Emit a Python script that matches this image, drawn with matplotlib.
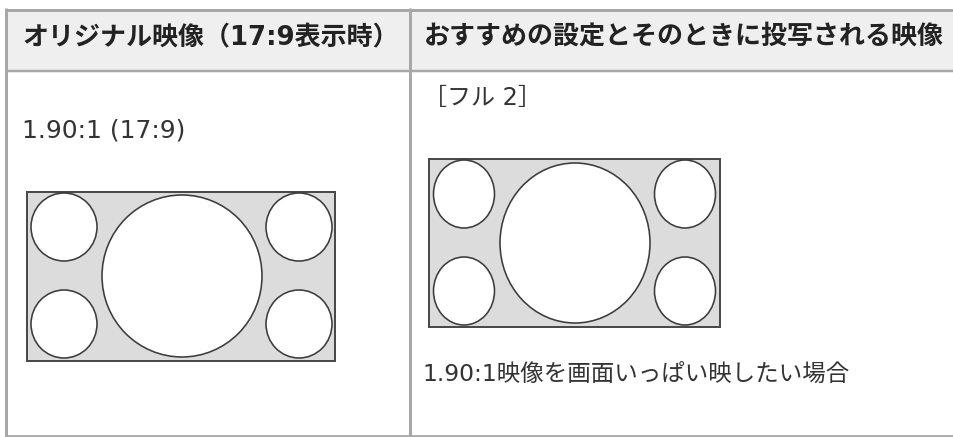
import matplotlib
matplotlib.use("Agg")
import matplotlib.pyplot as plt
from matplotlib.patches import Rectangle, Ellipse

# ---- table text ----
headers = ["オリジナル映像（17:9表示時）", "おすすめの設定とそのときに投写される映像"]
left_label = "1.90:1 (17:9)"
right_title = "［フル 2］"
right_caption = "1.90:1映像を画面いっぱい映したい場合"

# ---- diagram geometry (pixels) ----
# frame: x0, y0, x1, y1
left_frame = [27, 192, 335, 361]
right_frame = [429, 159, 720, 327]
# circles: cx, cy, rx, ry
left_cx = [64, 64, 299, 299, 182]
left_cy = [227, 324, 227, 324, 276]
left_rx = [33, 33, 33, 33, 80]
left_ry = [34, 34, 34, 34, 81]
right_cx = [464, 464, 685, 685, 575]
right_cy = [194, 291, 194, 291, 243]
right_rx = [30.5, 30.5, 30.5, 30.5, 75]
right_ry = [34, 34, 34, 34, 80]

W, H, DPI = 954, 437, 100
PT = 72 / DPI

fig = plt.figure(figsize=(W / DPI, H / DPI), dpi=DPI)
ax = fig.add_axes([0, 0, 1, 1])
ax.set_xlim(0, W)
ax.set_ylim(H, 0)
ax.axis("off")

border = "#a8a8a8"
# header background
ax.add_patch(Rectangle((7, 9.5), W - 7, 61.5, facecolor="#efefef", edgecolor="none", zorder=1))
# lines
ax.plot([5, W], [9.5, 9.5], color=border, lw=3 * PT, zorder=2, solid_capstyle="butt")
ax.plot([5, W], [71, 71], color=border, lw=2.5 * PT, zorder=2, solid_capstyle="butt")
ax.plot([5, W], [435.8, 435.8], color="#b0b0b0", lw=2 * PT, zorder=2, solid_capstyle="butt")
ax.plot([6.5, 6.5], [8, H], color=border, lw=3 * PT, zorder=2, solid_capstyle="butt")
ax.plot([409.8, 409.8], [8, H], color=border, lw=3 * PT, zorder=2, solid_capstyle="butt")

fam = ["DejaVu Sans", "Noto Sans CJK JP"]
head_fs = 26 * PT

ax.text(22, 37, headers[0], family=fam, fontsize=head_fs, fontweight="bold",
        color="#222222", va="center", ha="left", zorder=3)
ax.text(424, 37, headers[1], family=fam, fontsize=head_fs, fontweight="bold",
        color="#222222", va="center", ha="left", zorder=3)

ax.text(22, 130.5, left_label, family=fam, fontsize=25 * PT, color="#333333",
        va="center", ha="left", zorder=3)
ax.text(423, 98, right_title, family=fam, fontsize=24 * PT, color="#333333",
        va="center", ha="left", zorder=3)
ax.text(422, 374.5, right_caption, family=fam, fontsize=23.5 * PT, color="#333333",
        va="center", ha="left", zorder=3)


def diagram(frame, cxs, cys, rxs, rys):
    x0, y0, x1, y1 = frame
    ax.add_patch(Rectangle((x0, y0), x1 - x0, y1 - y0, facecolor="#dcdcdc",
                           edgecolor="#4a4a4a", lw=2 * PT, zorder=3))
    for cx, cy, rx, ry in zip(cxs, cys, rxs, rys):
        ax.add_patch(Ellipse((cx, cy), 2 * rx, 2 * ry, facecolor="white",
                             edgecolor="#3c3c3c", lw=1.6 * PT, zorder=4))


diagram(left_frame, left_cx, left_cy, left_rx, left_ry)
diagram(right_frame, right_cx, right_cy, right_rx, right_ry)

fig.savefig("out.png", dpi=DPI, facecolor="white")
